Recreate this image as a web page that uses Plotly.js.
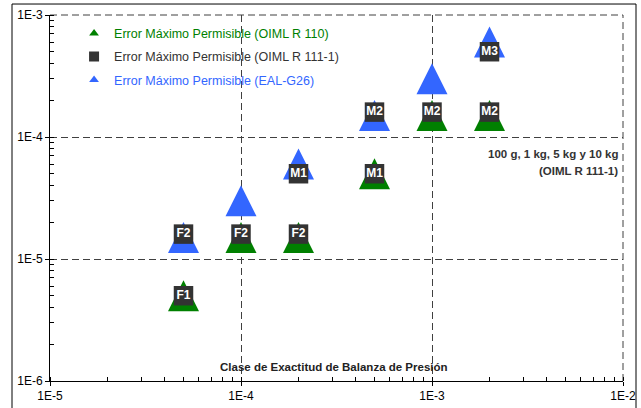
<!DOCTYPE html>
<html>
<head>
<meta charset="utf-8">
<script src="https://cdn.plot.ly/plotly-3.0.1.min.js"></script>
<style>html,body{margin:0;padding:0;background:#fff;}#chart{width:641px;height:408px;}</style>
</head>
<body>
<div id="chart"></div>
<script>
// Pressure balance accuracy classes (relative)
const classX = [5e-5, 1e-4, 2e-4, 5e-4, 1e-3, 2e-3];
// OIML R 110 maximum permissible error
const r110Y = [5e-6, 1.5e-5, 1.5e-5, 5e-5, 1.5e-4, 1.5e-4];
// EAL-G26 maximum permissible error
const ealY = [1.5e-5, 3e-5, 6e-5, 1.5e-4, 3e-4, 6e-4];
// OIML R 111-1 weight classes
const r111X = [5e-5, 5e-5, 1e-4, 2e-4, 2e-4, 5e-4, 5e-4, 1e-3, 2e-3, 2e-3];
const r111Y = [5e-6, 1.6e-5, 1.6e-5, 1.6e-5, 5e-5, 5e-5, 1.6e-4, 1.6e-4, 1.6e-4, 5e-4];
const r111Labels = ['F1', 'F2', 'F2', 'F2', 'M1', 'M1', 'M2', 'M2', 'M2', 'M3'];

const xTickVals = [1e-5, 1e-4, 1e-3, 1e-2];
const xTickText = ['1E-5', '1E-4', '1E-3', '1E-2'];
const yTickVals = [1e-6, 1e-5, 1e-4, 1e-3];
const yTickText = ['1E-6', '1E-5', '1E-4', '1E-3'];

const names = [
  'Error Máximo Permisible (OIML R 110)',
  'Error Máximo Permisible (OIML R 111-1)',
  'Error Máximo Permisible (EAL-G26)'
];

const GREEN = 'rgb(0,128,0)';
const BLUE = 'rgb(51,102,255)';
const DARK = '#333333';
const GRID = '#404040';
const FONT = 'Arial, "Liberation Sans", sans-serif';

const triSize = 31;
const triMarker = (color) => ({
  symbol: 'arrow-down', angle: 180, standoff: triSize / 2,
  size: triSize, color: color, line: {width: 0}
});

const traces = [
  {x: classX, y: r110Y, type: 'scatter', mode: 'markers', marker: triMarker(GREEN),
   showlegend: false, hoverinfo: 'skip'},
  {x: classX, y: ealY, type: 'scatter', mode: 'markers', marker: triMarker(BLUE),
   showlegend: false, hoverinfo: 'skip'},
  {x: r111X, y: r111Y, text: r111Labels, type: 'scatter', mode: 'markers+text',
   textposition: 'middle center',
   textfont: {family: FONT, size: 12, color: '#ffffff', weight: 'bold'},
   marker: {symbol: 'square', size: 19.5, color: DARK, line: {width: 0}},
   showlegend: false, hoverinfo: 'skip'},
  // legend entries
  {x: [null], y: [null], type: 'scatter', mode: 'markers', legendgroup: 'a',
   name: '<span style="color:' + GREEN + '">' + names[0] + '</span>',
   marker: {symbol: 'triangle-up', size: 8.5, color: GREEN}},
  {x: [null], y: [null], type: 'scatter', mode: 'markers', legendgroup: 'b',
   name: '<span style="color:' + DARK + '">' + names[1] + '</span>',
   marker: {symbol: 'square', size: 10, color: DARK}},
  {x: [null], y: [null], type: 'scatter', mode: 'markers', legendgroup: 'c',
   name: '<span style="color:' + BLUE + '">' + names[2] + '</span>',
   marker: {symbol: 'triangle-up', size: 8.5, color: BLUE}}
];

const axisCommon = {
  type: 'log',
  tickmode: 'array',
  showline: true, linecolor: '#000', linewidth: 1,
  ticks: 'outside', ticklen: 4, tickcolor: '#000', tickwidth: 1,
  showgrid: true, gridcolor: GRID, gridwidth: 1, griddash: '7px,4px',
  zeroline: false,
  tickfont: {family: FONT, size: 12, color: '#000'},
  minor: {dtick: 'D1', ticks: 'inside', ticklen: 4, tickcolor: '#000', tickwidth: 1, showgrid: false}
};

const layout = {
  width: 641, height: 408,
  margin: {l: 50, r: 18, t: 15, b: 27, pad: 0},
  paper_bgcolor: '#fff', plot_bgcolor: '#fff',
  font: {family: FONT, size: 12, color: '#000'},
  xaxis: Object.assign({}, axisCommon, {range: [-5, -2], tickvals: xTickVals, ticktext: xTickText}),
  yaxis: Object.assign({}, axisCommon, {range: [-6, -3], tickvals: yTickVals, ticktext: yTickText}),
  showlegend: true,
  legend: {x: 0.042, y: 0.99, xanchor: 'left', yanchor: 'top', bgcolor: 'rgba(0,0,0,0)',
           borderwidth: 0, font: {family: FONT, size: 12.5}, traceorder: 'grouped', tracegroupgap: 4},
  annotations: [
    {xref: 'paper', yref: 'paper', x: 0.4956, y: 0.038, xanchor: 'center', yanchor: 'middle',
     text: 'Clase de Exactitud de Balanza de Presión', showarrow: false,
     font: {family: FONT, size: 11.5, color: '#222', weight: 'bold'}},
    {xref: 'paper', yref: 'paper', x: 0.995, y: 0.620, xanchor: 'right', yanchor: 'middle',
     text: '100 g, 1 kg, 5 kg y 10 kg', showarrow: false,
     font: {family: FONT, size: 11.5, color: '#333', weight: 'bold'}},
    {xref: 'paper', yref: 'paper', x: 0.995, y: 0.5746, xanchor: 'right', yanchor: 'middle',
     text: '(OIML R 111-1)', showarrow: false,
     font: {family: FONT, size: 11.5, color: '#333', weight: 'bold'}}
  ],
  shapes: [
    // dashed gridlines along the top and right edges of the plot area
    {type: 'line', xref: 'paper', yref: 'paper', x0: 0, x1: 1, y0: 1, y1: 1,
     line: {color: GRID, width: 1, dash: '7px,4px'}, layer: 'below'},
    {type: 'line', xref: 'paper', yref: 'paper', x0: 1, x1: 1, y0: 0, y1: 1,
     line: {color: GRID, width: 1, dash: '7px,4px'}, layer: 'below'},
    // outer chart frame
    {type: 'rect', xref: 'paper', yref: 'paper', x0: -0.0663, x1: 1.0227, y0: -0.1, y1: 1.030,
     line: {color: '#000', width: 1}, fillcolor: 'rgba(0,0,0,0)', layer: 'above'}
  ]
};

Plotly.newPlot('chart', traces, layout, {displayModeBar: false, staticPlot: true});
</script>
</body>
</html>
